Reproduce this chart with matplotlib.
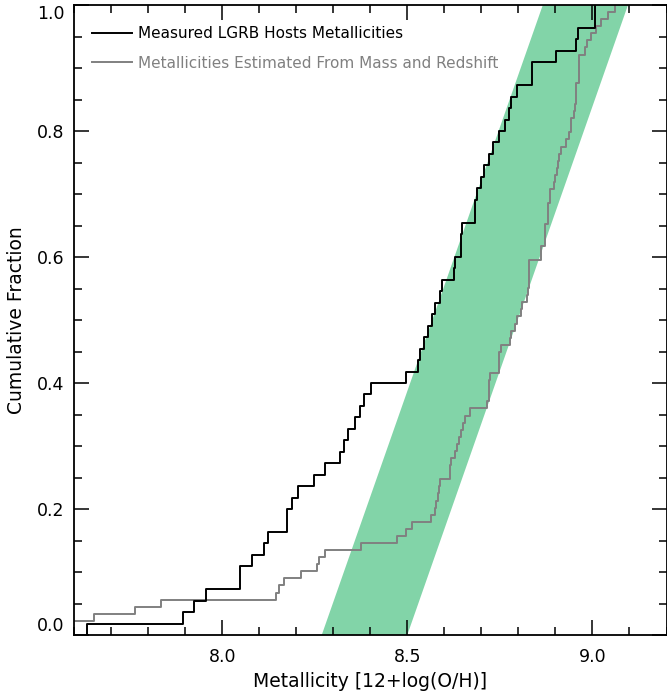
import numpy as np
import matplotlib
matplotlib.use("Agg")
import matplotlib.pyplot as plt
from matplotlib.ticker import MultipleLocator, FormatStrFormatter

# measured LGRB host metallicities (sorted, 12+log(O/H))
measured_z = [7.634, 7.894, 7.924, 7.957, 8.047, 8.049, 8.081, 8.114, 8.123,
              8.175, 8.175, 8.190, 8.204, 8.247, 8.278, 8.319, 8.330, 8.341,
              8.359, 8.371, 8.384, 8.402, 8.496, 8.528, 8.535, 8.545, 8.555,
              8.568, 8.574, 8.589, 8.593, 8.627, 8.628, 8.644, 8.645, 8.647,
              8.682, 8.683, 8.688, 8.699, 8.707, 8.721, 8.732, 8.747, 8.763,
              8.775, 8.781, 8.797, 8.837, 8.837, 8.902, 8.956, 8.961, 9.006,
              9.006]

# metallicities estimated from mass and redshift
estimated_z = [7.55, 7.58, 7.654, 7.765, 7.834, 8.145, 8.153, 8.166, 8.213,
               8.256, 8.262, 8.278, 8.374, 8.473, 8.496, 8.512, 8.564, 8.575,
               8.577, 8.584, 8.586, 8.588, 8.615, 8.615, 8.618, 8.630, 8.633,
               8.639, 8.645, 8.651, 8.656, 8.669, 8.714, 8.720, 8.721, 8.722,
               8.724, 8.747, 8.747, 8.747, 8.752, 8.777, 8.779, 8.792, 8.795,
               8.808, 8.810, 8.822, 8.826, 8.830, 8.830, 8.830, 8.830, 8.862,
               8.862, 8.871, 8.871, 8.871, 8.879, 8.879, 8.879, 8.886, 8.886,
               8.895, 8.900, 8.904, 8.906, 8.910, 8.916, 8.929, 8.936, 8.943,
               8.943, 8.950, 8.952, 8.956, 8.956, 8.956, 8.963, 8.963, 8.963,
               8.963, 8.980, 8.985, 8.997, 9.010, 9.023, 9.041, 9.061]

# shaded band: metallicity at cumulative fraction 0 and 1 (left/right edges)
band_bottom = [8.269, 8.500]
band_top = [8.866, 9.096]
band_frac = [0.0, 1.0]

x_ticks = [8.0, 8.5, 9.0]
y_ticks = [0.0, 0.2, 0.4, 0.6, 0.8, 1.0]

labels = ["Measured LGRB Hosts Metallicities",
          "Metallicities Estimated From Mass and Redshift"]


def ecdf(vals):
    x = np.sort(np.asarray(vals))
    y = np.arange(1, len(x) + 1) / len(x)
    return np.concatenate([[x[0]], x]), np.concatenate([[0.0], y])


fig = plt.figure(figsize=(6.67, 6.96), dpi=100)
ax = fig.add_axes([74 / 667, 61 / 696, 592.5 / 667, 630 / 696])

# band
poly_x = [band_bottom[0], band_bottom[1], band_top[1], band_top[0]]
poly_y = [band_frac[0], band_frac[0], band_frac[1], band_frac[1]]
ax.fill(poly_x, poly_y, color="#82d4a8", lw=0, zorder=1)

xm, ym = ecdf(measured_z)
xe, ye = ecdf(estimated_z)
ax.plot(xm, ym, drawstyle="steps-post", color="black", lw=1.4, zorder=3,
        label=labels[0])
ax.plot(xe, ye, drawstyle="steps-post", color="#808080", lw=1.4, zorder=2,
        label=labels[1])

ax.set_xlim(7.6, 9.2)
ax.set_ylim(0.0, 1.0)

ax.set_xticks(x_ticks)
ax.set_yticks(y_ticks)
ax.xaxis.set_minor_locator(MultipleLocator(0.1))
ax.yaxis.set_minor_locator(MultipleLocator(0.05))
ax.xaxis.set_major_formatter(FormatStrFormatter("%.1f"))
ax.yaxis.set_major_formatter(FormatStrFormatter("%.1f"))
ax.tick_params(which="both", direction="in", top=True, right=True,
               labelsize=12.5, width=1.1)
ax.tick_params(axis="x", pad=9)
ax.tick_params(axis="y", pad=7)
ax.tick_params(which="major", length=11)
ax.tick_params(which="minor", length=5.5)
for sp in ax.spines.values():
    sp.set_linewidth(1.3)

# keep end labels inside the frame, like the original
ylabs = ax.get_yticklabels()
ylabs[0].set_verticalalignment("bottom")
ylabs[-1].set_verticalalignment("top")

ax.set_xlabel("Metallicity [12+log(O/H)]", fontsize=13.5, labelpad=5)
ax.set_ylabel("Cumulative Fraction", fontsize=13.5, labelpad=8)

leg = ax.legend(loc="upper left", frameon=False, fontsize=11,
                handlelength=2.6, handletextpad=0.45,
                bbox_to_anchor=(0.007, 0.988), labelspacing=0.95)
leg.get_texts()[1].set_color("#808080")

fig.savefig("out.png", dpi=100)
